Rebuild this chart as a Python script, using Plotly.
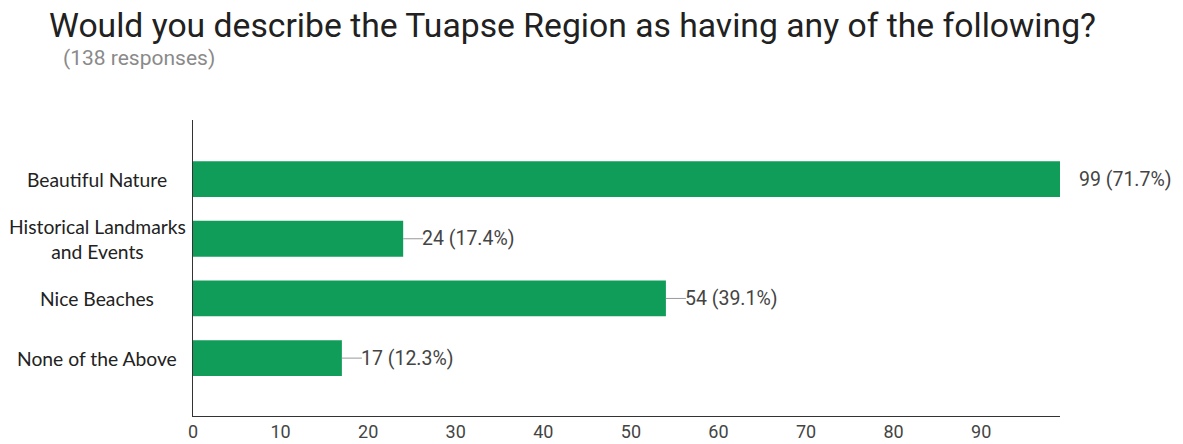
import plotly.graph_objects as go

categories = ["Beautiful Nature", "Historical Landmarks<br>and Events", "Nice Beaches", "None of the Above"]
counts = [99, 24, 54, 17]
percents = ["71.7%", "17.4%", "39.1%", "12.3%"]
tick_vals = [0, 10, 20, 30, 40, 50, 60, 70, 80, 90]
title_text = "Would you describe the Tuapse Region as having any of the following?"
subtitle_text = "(138 responses)"

W, H = 1183, 444
ML = 193
MT = 120
MB = H - 416
MR = W - 1060
PW = W - ML - MR
PH = H - MT - MB
XMAX = max(counts)
px_per_unit = PW / XMAX
stem_units = 20 / px_per_unit

ypos = list(range(len(categories)))

fig = go.Figure()
fig.add_trace(go.Bar(
    x=counts, y=ypos, orientation="h", width=0.6,
    marker=dict(color="#109d59", line=dict(width=0)),
    hoverinfo="skip", showlegend=False,
))

# stems (clipped to the plot area like the original)
sx, sy = [], []
for c, y in zip(counts, ypos):
    sx += [c, c + stem_units, None]
    sy += [y, y, None]
fig.add_trace(go.Scatter(x=sx, y=sy, mode="lines", line=dict(color="#999999", width=1),
                         hoverinfo="skip", showlegend=False))


def px_x(page_x):
    return (page_x - ML) / PW


def px_y(page_y):
    return 1 + (MT - page_y) / PH


annotations = []
for c, p, y in zip(counts, percents, ypos):
    annotations.append(dict(x=c, y=y, xref="x", yref="y", text=f"{c} ({p})", showarrow=False,
                            xanchor="left", yanchor="middle", xshift=17,
                            font=dict(family="Roboto", size=19.5, color="#444444")))
for cat, y in zip(categories, ypos):
    annotations.append(dict(x=px_x(97), y=y, xref="paper", yref="y", text=cat, showarrow=False,
                            xanchor="center", yanchor="middle", align="center",
                            font=dict(family="Lato", size=19.3, color="#222222")))
annotations.append(dict(x=px_x(47), y=px_y(4), xref="paper", yref="paper", text=title_text,
                        showarrow=False, xanchor="left", yanchor="top",
                        font=dict(family="Roboto", size=33.7, color="#212121")))
annotations.append(dict(x=px_x(61), y=px_y(58), xref="paper", yref="paper", text=subtitle_text,
                        showarrow=False, xanchor="left", yanchor="middle", height=24,
                        font=dict(family="Roboto", size=21, color="#8a8a8a")))

fig.update_layout(
    width=W, height=H,
    margin=dict(l=ML, r=MR, t=MT, b=MB, pad=0, autoexpand=False),
    paper_bgcolor="white", plot_bgcolor="white",
    xaxis=dict(range=[0, XMAX], tickvals=tick_vals, showgrid=False, zeroline=False,
               showline=True, linecolor="#333333", linewidth=1, ticks="",
               ticklabelstandoff=-1, automargin=False,
               tickfont=dict(family="Roboto", size=18, color="#444444"), fixedrange=True),
    yaxis=dict(range=[len(categories) - 0.03, -0.99], showgrid=False, zeroline=False,
               showline=True, linecolor="#333333", linewidth=1, showticklabels=False, ticks="",
               automargin=False, fixedrange=True),
    annotations=annotations,
)

fig.write_html("out.html", config={"displayModeBar": False},
               post_script="document.body.style.margin='0px';")
